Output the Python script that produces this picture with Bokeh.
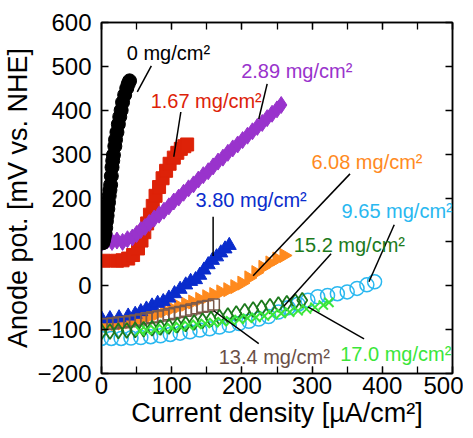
import numpy as np
from bokeh.plotting import figure
from bokeh.models import (Range1d, LinearAxis, SingleIntervalTicker, CustomJSTickFormatter,
                          LabelSet, ColumnDataSource)
from bokeh.core.properties import value
from bokeh.embed import file_html
from bokeh.resources import INLINE

FONT = "Liberation Sans"

# ---- data ----
black_x = [2, 3, 4, 5, 6, 7, 8, 9, 10, 11, 12, 13, 14, 15, 16, 17, 19, 20, 22, 24, 26, 28, 30, 33, 36, 38, 40]
black_y = [98, 105, 112, 120, 132, 147, 160, 175, 190, 205, 218, 230, 250, 270, 285, 298, 318, 333, 350, 368, 385, 400, 418, 435, 450, 460, 467]

red_x = [3, 22, 30, 38, 45, 52, 57, 61, 65, 69, 73, 77, 82, 87, 92, 97, 103, 108, 113, 118, 122]
red_y = [57, 57, 58, 62, 70, 85, 103, 122, 142, 162, 182, 205, 225, 245, 262, 278, 292, 303, 312, 318, 322]

purple_x = [0, 8, 15, 22, 30, 37, 44, 50, 56, 62, 68, 75, 82, 89, 96, 103, 110, 117, 124, 131, 138, 145,
            152, 159, 166, 173, 180, 187, 194, 201, 208, 215, 222, 229, 236, 243, 250, 256]
purple_y = [97, 103, 100, 103, 100, 106, 110, 118, 127, 134, 143, 153, 162, 171, 181, 192, 201, 212, 222, 231,
            242, 252, 261, 272, 283, 292, 303, 313, 322, 332, 342, 352, 362, 371, 382, 392, 402, 412]

blue_x = [0, 12, 25, 38, 48, 56, 64, 72, 80, 88, 96, 104, 112, 120, 127, 134, 140, 146, 152, 158, 164, 170, 176, 182]
blue_y = [-75, -75, -73, -69, -65, -59, -53, -46, -40, -36, -28, -18, -8, 2, 10, 14, 24, 36, 48, 58, 66, 75, 84, 92]

orange_x = [0, 10, 20, 30, 40, 50, 60, 70, 80, 90, 100, 110, 120, 130, 140, 150, 160, 170, 180, 190, 200,
            210, 220, 230, 240, 250, 260]
orange_y = [-87, -87, -86, -85, -82, -78, -73, -68, -63, -57, -52, -47, -42, -37, -31, -25, -20, -14, -9, -2, 6,
            18, 30, 42, 52, 61, 69]

brown_x = [0, 8, 16, 24, 32, 40, 48, 56, 64, 72, 80, 88, 96, 104, 112, 120, 128, 136, 144, 152, 160]
brown_y = [-88, -87, -86, -84, -83, -81, -79, -77, -74, -72, -70, -68, -65, -62, -60, -57, -54, -51, -48, -46, -43]

dgreen_x = [0, 12, 24, 36, 48, 60, 72, 84, 96, 108, 120, 132, 144, 156, 168, 180, 192, 204, 216, 228, 240,
            252, 264, 276, 286]
dgreen_y = [-105, -104, -103, -102, -101, -99, -97, -95, -93, -90, -87, -84, -80, -76, -72, -68, -63, -58, -54,
            -50, -47, -43, -40, -36, -33]

lgreen_x = [55, 64, 76, 88, 100, 112, 124, 136, 148, 160, 172, 184, 196, 208, 220, 232, 244, 256, 268, 280,
            292, 304, 316, 324]
lgreen_y = [-103, -101, -100, -98, -96, -93, -90, -88, -86, -84, -82, -80, -77, -74, -72, -69, -66, -63, -60,
            -57, -53, -49, -44, -38]

cyan_x = [0, 14, 28, 42, 56, 70, 84, 98, 112, 126, 140, 154, 168, 182, 196, 210, 224, 238, 252, 266, 280,
          294, 308, 322, 336, 350, 364, 378, 389]
cyan_y = [-120, -120, -120, -119, -118, -116, -114, -111, -108, -105, -101, -98, -94, -90, -86, -81, -76, -70,
          -60, -50, -42, -33, -25, -22, -18, -14, -6, 2, 9]

label_text = ["0 mg/cm²", "1.67 mg/cm²", "2.89 mg/cm²", "3.80 mg/cm²", "6.08 mg/cm²",
              "9.65 mg/cm²", "15.2 mg/cm²", "17.0 mg/cm²", "13.4 mg/cm²"]
label_x = [36, 70, 199, 134, 299, 342, 274, 340, 167]
label_y = [515, 405, 474, 180, 266, 155, 77, -171, -178]
lead_x0 = [71, 113, 236, 159, 354, 417, 327, 374, 224]
lead_y0 = [501, 396, 460, 157, 255, 139, 73, -121, -132]
lead_x1 = [51, 103, 224, 159, 216, 381, 260, 294, 160]
lead_y1 = [442, 294, 380, 68, 23, 9, -46, -48, -57]

x_ticks_interval = 100
y_ticks_interval = 100

C_BLACK = "#000000"
C_RED = "#dd2208"
C_PURPLE = "#9933cc"
C_BLUE = "#0a2ccc"
C_ORANGE = "#ff8a1e"
C_BROWN = "#7a5a4c"
C_DGREEN = "#1c7a1c"
C_LGREEN = "#3ae63a"
C_CYAN = "#2ab8f0"
label_colors = [C_BLACK, C_RED, C_PURPLE, C_BLUE, C_ORANGE, C_CYAN, C_DGREEN, C_LGREEN, "#6b5048"]

p = figure(frame_width=351, frame_height=351, output_backend="svg", toolbar_location=None,
           x_range=Range1d(0, 500), y_range=Range1d(-200, 600),
           min_border_left=93, min_border_right=11, min_border_top=22, min_border_bottom=60)
p.grid.visible = False
p.outline_line_color = "black"
p.outline_line_width = 1.5
p.background_fill_color = "white"
p.border_fill_color = "white"

xt = SingleIntervalTicker(interval=x_ticks_interval, num_minor_ticks=2)
yt = SingleIntervalTicker(interval=y_ticks_interval, num_minor_ticks=0)

def style(ax, ticker, labels=True):
    ax.ticker = ticker
    ax.axis_line_color = "black"
    ax.axis_line_width = 1.5
    ax.major_tick_in = 7
    ax.major_tick_out = 0
    ax.minor_tick_in = 7
    ax.minor_tick_out = 0
    ax.major_tick_line_color = "black"
    ax.minor_tick_line_color = "black"
    ax.major_tick_line_width = 1.3
    ax.minor_tick_line_width = 1.3
    ax.major_label_text_font = FONT
    ax.major_label_text_font_size = "24px"
    ax.major_label_text_color = "black"
    ax.axis_label_text_font = FONT
    ax.axis_label_text_font_size = "27px"
    ax.axis_label_text_font_style = "normal"
    ax.axis_label_text_color = "black"
    if not labels:
        ax.formatter = CustomJSTickFormatter(code="return '';")
        ax.major_label_standoff = 0
        ax.major_label_text_font_size = "1px"

style(p.xaxis[0], xt)
style(p.yaxis[0], yt)
p.xaxis[0].axis_label = "Current density [µA/cm²]"
p.yaxis[0].axis_label = "Anode pot. [mV vs. NHE]"
p.xaxis[0].major_label_standoff = 3
p.yaxis[0].major_label_standoff = 10
p.xaxis[0].axis_label_standoff = 1
p.yaxis[0].axis_label_standoff = 1

top = LinearAxis()
style(top, SingleIntervalTicker(interval=x_ticks_interval, num_minor_ticks=2), labels=False)
p.add_layout(top, "above")
right = LinearAxis()
style(right, SingleIntervalTicker(interval=y_ticks_interval, num_minor_ticks=0), labels=False)
p.add_layout(right, "right")

# series (drawing order matters for overlaps)
p.scatter(red_x, red_y, marker="square", size=13, fill_color=C_RED, line_color=C_RED)
p.scatter(purple_x, purple_y, marker="diamond", size=17, fill_color=C_PURPLE, line_color=C_PURPLE)
p.scatter(black_x, black_y, marker="circle", size=14, fill_color=C_BLACK, line_color=C_BLACK)
p.scatter(cyan_x, cyan_y, marker="circle", size=14, fill_color=None, line_color=C_CYAN, line_width=1.5)
p.scatter(orange_x, orange_y, marker="triangle", angle=-np.pi / 2, size=14,
          fill_color=C_ORANGE, line_color=C_ORANGE)
p.scatter(blue_x, blue_y, marker="triangle", size=14, fill_color=C_BLUE, line_color=C_BLUE)
p.scatter(brown_x, brown_y, marker="square", size=11, fill_color=None, line_color=C_BROWN, line_width=1.5)
p.scatter(dgreen_x, dgreen_y, marker="diamond", size=15, fill_color=None, line_color=C_DGREEN, line_width=1.8)
p.scatter(lgreen_x, lgreen_y, marker="x", size=13, line_color=C_LGREEN, line_width=2)

p.segment(lead_x0, lead_y0, lead_x1, lead_y1, line_color="black", line_width=1.5)
src = ColumnDataSource(dict(x=label_x, y=label_y, text=label_text, color=label_colors))
p.add_layout(LabelSet(x="x", y="y", text="text", source=src, text_color="color",
                      text_font=value(FONT), text_font_size="20px", text_align="left",
                      text_baseline="alphabetic"))

open("out.html", "w").write(file_html(p, INLINE))
